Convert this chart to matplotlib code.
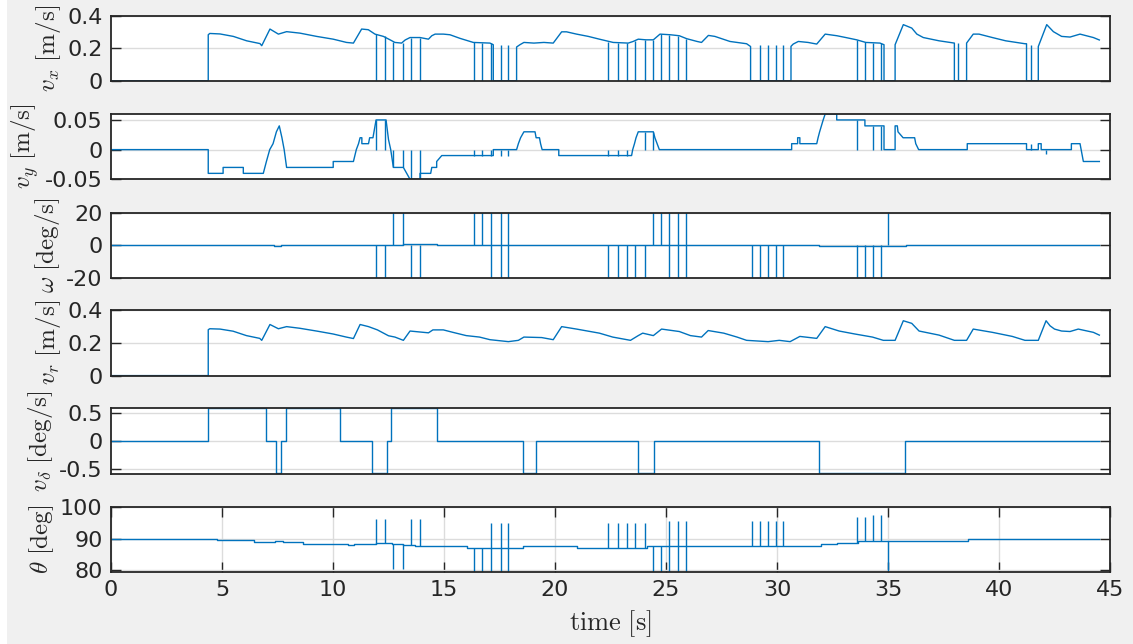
import numpy as np
import matplotlib
matplotlib.use("Agg")
import matplotlib.pyplot as plt
from matplotlib.patches import Rectangle

plt.rcParams['font.family'] = ['DejaVu Sans']
plt.rcParams['mathtext.fontset'] = 'cm'
plt.rcParams['axes.unicode_minus'] = False

# ---------------- data ----------------
# v_x : base polyline (time [s], value [m/s]) incl. dropout blocks
vx_t = [0, 4.38, 4.38, 4.45, 4.91, 5.51, 6.11, 6.71, 6.79, 7.16, 7.54, 7.91, 8.51, 9.26, 10.01, 10.61,
        10.92, 11.29, 11.59, 11.89, 12.27, 12.57, 12.79, 13.09, 13.25, 13.47, 13.92, 14.3, 14.45, 14.6,
        14.97, 15.27, 15.72, 16.32, 17.07, 17.22, 17.22, 18.27, 18.27, 18.42, 18.6, 19.05, 19.5, 19.92,
        20.3, 20.52, 20.97, 21.5, 22.0, 22.62, 23.3, 23.52, 23.75, 24.1, 24.43, 24.73, 25.2, 25.6, 25.93,
        26.4, 26.6, 26.91, 27.2, 27.88, 28.63, 28.81, 28.81, 30.63, 30.63, 30.73, 30.96, 31.4, 31.79,
        32.17, 32.7, 33.1, 33.59, 34.0, 34.64, 34.82, 34.82, 35.32, 35.32, 35.69, 36.07, 36.3, 36.59,
        37.3, 37.99, 37.99, 38.54, 38.54, 38.84, 39.1, 39.7, 40.3, 41.17, 41.24, 41.24, 41.77, 41.77,
        42.15, 42.45, 42.82, 43.2, 43.65, 44.25, 44.52]
vx_v = [0, 0, 0.282, 0.29, 0.287, 0.272, 0.245, 0.228, 0.215, 0.317, 0.286, 0.301, 0.292, 0.272, 0.255, 0.235,
        0.231, 0.317, 0.313, 0.286, 0.272, 0.251, 0.235, 0.231, 0.25, 0.265, 0.265, 0.255, 0.276, 0.286,
        0.286, 0.282, 0.26, 0.235, 0.231, 0.221, 0, 0, 0.207, 0.221, 0.235, 0.231, 0.235, 0.231,
        0.3, 0.3, 0.286, 0.272, 0.255, 0.235, 0.231, 0.241, 0.255, 0.251, 0.251, 0.286, 0.282, 0.276, 0.258,
        0.241, 0.235, 0.278, 0.272, 0.241, 0.227, 0.21, 0, 0, 0.211, 0.225, 0.241, 0.235, 0.225,
        0.286, 0.276, 0.265, 0.251, 0.235, 0.231, 0.221, 0, 0, 0.221, 0.344, 0.323, 0.286, 0.265,
        0.245, 0.231, 0, 0, 0.231, 0.286, 0.286, 0.265, 0.245, 0.227, 0.227, 0, 0, 0.21,
        0.344, 0.301, 0.272, 0.268, 0.286, 0.265, 0.25]
# v_x single-sample dropouts (time, level of the line before the drop)
vx_drop_t = [11.94, 12.34, 12.69, 13.14, 13.50, 13.92, 16.35, 16.70, 17.10, 17.55, 17.90, 22.40, 22.82,
             23.26, 23.60, 24.05, 24.40, 24.78, 25.15, 25.52, 25.90, 29.23, 29.61, 29.97, 30.28, 33.62,
             33.96, 34.31, 34.67, 38.17, 41.45]
vx_drop_top = [0.285, 0.272, 0.24, 0.231, 0.265, 0.265, 0.235, 0.233, 0.231, 0.22, 0.22, 0.235, 0.233,
               0.231, 0.245, 0.251, 0.251, 0.285, 0.282, 0.277, 0.258, 0.22, 0.22, 0.22, 0.22, 0.251,
               0.236, 0.233, 0.231, 0.23, 0.22]

# v_y
vy_t = [0, 4.38, 4.38, 5.05, 5.05, 5.96, 5.96, 6.86, 7.0, 7.15, 7.3, 7.45, 7.58, 7.7, 7.8, 7.91, 10.01,
        10.01, 10.92, 11.05, 11.15, 11.22, 11.3, 11.3, 11.6, 11.65, 11.8, 11.94, 12.39, 12.5, 12.6, 12.72,
        13.17, 13.32, 13.47, 13.92, 13.92, 14.4, 14.45, 14.67, 14.67, 14.9, 17.22, 17.22, 18.27, 18.35,
        18.45, 18.6, 19.1, 19.15, 19.3, 19.35, 19.42, 20.17, 20.17, 23.45, 23.5, 23.58, 23.65, 23.75,
        24.43, 24.5, 24.6, 24.7, 30.66, 30.66, 30.93, 30.93, 31.03, 31.03, 31.79, 31.85, 31.92, 32.0,
        32.08, 32.17, 32.69, 32.69, 33.96, 33.96, 34.82, 34.82, 35.32, 35.32, 35.42, 35.45, 35.68, 36.2,
        36.25, 36.38, 38.57, 38.57, 41.24, 41.24, 41.77, 41.77, 41.9, 41.9, 43.26, 43.26, 43.65, 43.7,
        43.8, 44.52]
vy_v = [0, 0, -0.04, -0.04, -0.03, -0.03, -0.04, -0.04, -0.02, 0.0, 0.01, 0.03, 0.04, 0.02, 0.0, -0.03, -0.03,
        -0.02, -0.02, 0.0, 0.01, 0.02, 0.02, 0.01, 0.01, 0.02, 0.02, 0.05, 0.05, 0.017, 0.0, -0.03,
        -0.03, -0.04, -0.05, -0.05, -0.04, -0.04, -0.03, -0.03, -0.02, -0.01, -0.01, 0, 0, 0.01,
        0.02, 0.03, 0.03, 0.02, 0.02, 0.01, 0.0, 0.0, -0.01, -0.01, 0.0, 0.01, 0.02, 0.03,
        0.03, 0.02, 0.01, 0.0, 0.0, 0.01, 0.01, 0.02, 0.02, 0.01, 0.01, 0.02, 0.03, 0.04,
        0.05, 0.06, 0.06, 0.05, 0.05, 0.04, 0.04, 0.0, 0.0, 0.04, 0.04, 0.03, 0.02, 0.02,
        0.01, 0.0, 0.0, 0.01, 0.01, 0.0, 0.0, 0.01, 0.01, 0.0, 0.0, 0.01, 0.01, 0.0,
        -0.02, -0.02]
vy_drop_t = [11.94, 12.34, 12.69, 13.14, 13.50, 13.92, 16.35, 16.70, 17.10, 17.55, 17.90, 22.40, 22.82,
             23.26, 24.05, 24.40, 33.62, 34.31, 34.67, 41.45, 42.12]
vy_drop_val = [0.05, 0.05, -0.03, -0.03, -0.05, -0.05, -0.01, -0.01, -0.01, -0.01, -0.01, -0.01, -0.01,
               -0.01, 0.03, 0.03, 0.05, 0.04, 0.04, 0.01, -0.007]

# omega [deg/s]: base steps and spikes
w_t = [0, 4.38, 7.0, 7.35, 7.65, 7.9, 10.3, 13.17, 14.67, 31.9, 33.6, 35.3, 35.8, 44.52]
w_v = [0, 0.5, 0, -0.6, 0, 0.5, 0, 0.7, 0, -0.6, -0.4, -0.6, 0, 0]
w_spike_t = [11.94, 12.34, 12.69, 13.14, 13.50, 13.92, 16.35, 16.70, 17.10, 17.10, 17.55, 17.55,
             17.90, 17.90, 22.40, 22.82, 23.26, 23.60, 24.05, 24.40, 24.78, 25.15, 25.15, 25.52, 25.52,
             25.90, 25.90, 28.86, 29.23, 29.61, 29.97, 30.28, 33.62, 33.96, 34.31, 34.67, 35.01]
w_spike_v = [-25, -25, 25, 25, -25, -25, 25, 25, 25, -25, 25, -25,
             25, -25, -25, -25, -25, -25, -25, 25, 25, 25, -25, 25, -25,
             25, -25, -25, -25, -25, -25, -25, -25, -25, -25, -25, 25]

# v_r
vr_t = [0, 4.38, 4.38, 4.45, 4.91, 5.5, 6.1, 6.7, 6.79, 7.16, 7.54, 7.91, 8.5, 9.3, 10.0, 10.6, 10.92,
        11.22, 11.6, 12.0, 12.5, 12.79, 13.17, 13.47, 14.3, 14.5, 14.97, 15.4, 16.0, 16.6, 17.07, 17.9,
        18.35, 18.6, 19.4, 19.92, 20.3, 20.97, 22.0, 22.6, 23.4, 23.75, 23.95, 24.43, 24.8, 25.6, 26.1,
        26.6, 26.9, 27.6, 28.2, 28.63, 29.6, 30.1, 30.59, 31.03, 31.79, 32.17, 32.8, 33.5, 34.3, 34.79,
        35.32, 35.69, 36.07, 36.4, 37.3, 37.99, 38.54, 38.84, 39.7, 40.6, 41.17, 41.77, 42.12, 42.3,
        42.5, 42.82, 43.2, 43.57, 44.25, 44.52]
vr_v = [0, 0, 0.281, 0.287, 0.285, 0.272, 0.245, 0.228, 0.216, 0.313, 0.287, 0.30, 0.29, 0.272, 0.255,
        0.236, 0.227, 0.313, 0.30, 0.28, 0.244, 0.236, 0.216, 0.273, 0.262, 0.28, 0.28, 0.265, 0.245,
        0.236, 0.22, 0.208, 0.216, 0.236, 0.233, 0.22, 0.3, 0.285, 0.26, 0.236, 0.216, 0.245, 0.26,
        0.245, 0.285, 0.27, 0.245, 0.236, 0.276, 0.26, 0.236, 0.216, 0.208, 0.216, 0.208, 0.24, 0.228,
        0.30, 0.273, 0.255, 0.236, 0.216, 0.216, 0.336, 0.32, 0.273, 0.248, 0.216, 0.216, 0.285, 0.265,
        0.24, 0.216, 0.216, 0.336, 0.305, 0.285, 0.273, 0.27, 0.285, 0.265, 0.248]

# v_delta [deg/s] (step signal)
vd_t = [0, 4.38, 6.97, 7.43, 7.66, 7.88, 10.31, 11.74, 12.44, 12.62, 14.70, 18.57, 19.14, 23.75,
        24.46, 31.89, 35.78, 44.52]
vd_v = [0, 0.573, 0, -0.573, 0, 0.573, 0, -0.573, 0, 0.573, 0, -0.573, 0, -0.573, 0, -0.573, 0, 0]

# theta [deg] (step signal) and spikes
th_t = [0, 4.76, 4.85, 5.0, 6.44, 7.39, 7.76, 8.66, 10.69, 10.95, 11.94, 12.66, 13.17, 13.69, 16.02,
        18.57, 20.97, 24.13, 31.98, 32.69, 33.67, 38.61, 44.52]
th_v = [90, 89.4, 89.6, 89.4, 88.9, 89.3, 88.9, 88.3, 87.9, 88.3, 88.7, 88.2, 88.0, 87.65, 87.1,
        87.65, 87.1, 87.65, 88.2, 88.7, 89.2, 90, 90]
th_spike_t = [11.94, 12.34, 12.69, 13.14, 13.50, 13.92, 16.35, 16.70, 17.10, 17.10, 17.55, 17.55,
              17.90, 17.90, 22.40, 22.82, 23.26, 23.60, 24.05, 24.40, 24.78, 25.15, 25.15, 25.52, 25.52,
              25.90, 25.90, 28.86, 29.23, 29.61, 29.97, 30.28, 33.62, 33.96, 34.31, 34.67, 35.01]
th_spike_base = [88.3, 88.7, 88.2, 88.2, 88.0, 87.65, 87.1, 87.1, 87.1, 87.1, 87.1, 87.1,
                 87.1, 87.1, 87.1, 87.1, 87.1, 87.1, 87.1, 87.65, 87.65, 87.65, 87.65, 87.65, 87.65,
                 87.65, 87.65, 87.65, 87.65, 87.65, 87.65, 87.65, 88.7, 89.2, 89.2, 89.2, 89.2]
th_spike_peak = [96.1, 96.1, 80.5, 80.5, 96.0, 96.0, 79.0, 79.0, 95.0, 79.0, 95.0, 79.0,
                 95.0, 79.0, 95.0, 95.0, 95.0, 95.0, 95.0, 79.0, 79.0, 95.5, 79.0, 95.5, 79.0,
                 95.5, 79.0, 95.5, 95.5, 95.5, 95.5, 95.5, 96.8, 96.8, 97.3, 97.3, 79.9]

x_ticks = [0, 5, 10, 15, 20, 25, 30, 35, 40, 45]

# ---------------- figure ----------------
W, H = 1133, 644
fig = plt.figure(figsize=(W / 100, H / 100), dpi=100, facecolor='#f0f0f0')
fig.patches.append(Rectangle((0, 0), 7 / W, 1, transform=fig.transFigure, facecolor='white',
                             edgecolor='none', zorder=-1))

C = '#0072BD'
AXC = '#262626'
LW = 1.0
left, width = 111 / W, 999 / W
tops = [15.5, 114, 212.7, 310.3, 408.3, 506.7]
h = 65.3 / H

specs = [
    (r'$v_x\ [\mathrm{m/s}]$', (0, 0.4), [0, 0.2, 0.4], ['0', '0.2', '0.4']),
    (r'$v_y\ [\mathrm{m/s}]$', (-0.05, 0.06), [-0.05, 0, 0.05], ['-0.05', '0', '0.05']),
    (r'$\omega\ [\mathrm{deg/s}]$', (-20, 20), [-20, 0, 20], ['-20', '0', '20']),
    (r'$v_r\ [\mathrm{m/s}]$', (0, 0.4), [0, 0.2, 0.4], ['0', '0.2', '0.4']),
    (r'$v_\delta\ [\mathrm{deg/s}]$', (-0.575, 0.575), [-0.5, 0, 0.5], ['-0.5', '0', '0.5']),
    (r'$\theta\ [\mathrm{deg}]$', (79.5, 100), [80, 90, 100], ['80', '90', '100']),
]

axes = []
for i, (lab, yl, yt, ytl) in enumerate(specs):
    bottom = 1 - (tops[i] + 65.3) / H
    ax = fig.add_axes([left, bottom, width, h])
    ax.set_facecolor('white')
    ax.set_xlim(0, 45)
    ax.set_ylim(*yl)
    ax.set_yticks(yt)
    ax.set_yticklabels(ytl)
    ax.grid(True, axis='y', color='#dcdcdc', lw=1.0)
    ax.set_axisbelow(True)
    ax.tick_params(axis='y', direction='in', length=7.5, width=1.0, color=AXC, labelcolor=AXC,
                   labelsize=16, left=True, right=True, pad=6)
    if i < 5:
        ax.set_xticks([])
    else:
        ax.set_xticks(x_ticks)
        ax.set_xticklabels([str(v) for v in x_ticks])
        ax.grid(True, axis='x', color='#dcdcdc', lw=1.0)
        ax.tick_params(axis='x', direction='in', length=7.5, width=1.0, color=AXC, labelcolor=AXC,
                       labelsize=16, top=True, bottom=True, pad=6)
    for s in ax.spines.values():
        s.set_color(AXC)
        s.set_linewidth(1.3)
    ax.set_ylabel(lab, fontsize=18, color=AXC, labelpad=3)
    axes.append(ax)

ax1, ax2, ax3, ax4, ax5, ax6 = axes

ax1.plot(vx_t, vx_v, color=C, lw=LW)
ax1.vlines(vx_drop_t, 0, vx_drop_top, color=C, lw=LW)

ax2.plot(vy_t, vy_v, color=C, lw=LW)
ax2.vlines(vy_drop_t, 0, vy_drop_val, color=C, lw=LW)

ax3.plot(w_t, w_v, color=C, lw=LW, drawstyle='steps-post')
ax3.vlines(w_spike_t, 0, w_spike_v, color=C, lw=LW)

ax4.plot(vr_t, vr_v, color=C, lw=LW)

ax5.plot(vd_t, vd_v, color=C, lw=LW, drawstyle='steps-post')

ax6.plot(th_t, th_v, color=C, lw=LW, drawstyle='steps-post')
ax6.vlines(th_spike_t, th_spike_base, th_spike_peak, color=C, lw=LW)

ax6.set_xlabel(r'$\mathrm{time}\ [\mathrm{s}]$', fontsize=19, color=AXC, labelpad=6)

fig.savefig('out.png', dpi=100, facecolor=fig.get_facecolor())
